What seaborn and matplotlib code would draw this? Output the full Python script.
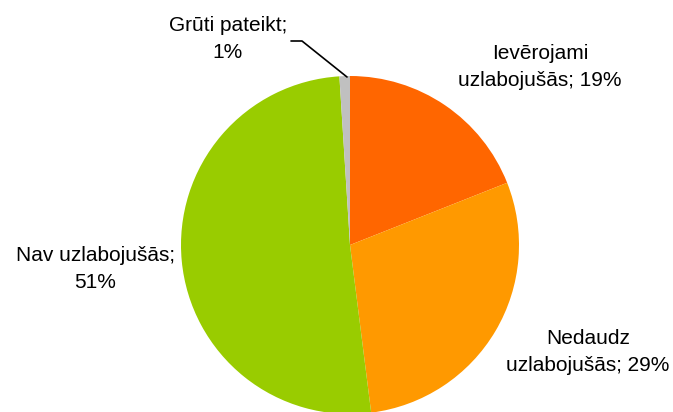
import matplotlib
matplotlib.use('Agg')
import matplotlib.pyplot as plt
import seaborn as sns

# Data
categories = ['Ievērojami\nuzlabojušās; 19%', 'Nedaudz\nuzlabojušās; 29%',
              'Nav uzlabojušās;\n51%', 'Grūti pateikt;\n1%']
shares = [19, 29, 51, 1]
colors = ['#FF6600', '#FF9900', '#99CC00', '#C0C0C0']

sns.set_style('white')
plt.rcParams['font.family'] = ['Liberation Sans', 'DejaVu Sans']

W, H = 673, 412
fig = plt.figure(figsize=(W / 100, H / 100), dpi=100)

# pie centre ~ (350, 245) px, radius ~169 px
cx, cy, r = 350, 245, 169
ax = fig.add_axes([(cx - r) / W, (H - cy - r) / H, 2 * r / W, 2 * r / H])
wedges, _ = ax.pie(shares, colors=colors, startangle=90, counterclock=False,
                   radius=1, wedgeprops=dict(linewidth=0))
for w in wedges:
    w.set_clip_on(False)
ax.set_xlim(-1, 1)
ax.set_ylim(-1, 1)
ax.set_aspect('equal')
ax.axis('off')

# label positions in pixel coords (centre of text block)
label_pos = [(540, 67), (588, 352), (95, 269), (228, 39)]
for text, (px, py) in zip(categories, label_pos):
    fig.text(px / W, 1 - py / H, text, ha='center', va='center',
             fontsize=15, linespacing=1.5, color='#000000')

# leader line for the small slice
lx = [291, 302, 347]
ly = [41, 41, 77]
fig.add_artist(plt.Line2D([x / W for x in lx], [1 - y / H for y in ly],
                          color='black', linewidth=1.2))

plt.savefig('out.png', dpi=100)
